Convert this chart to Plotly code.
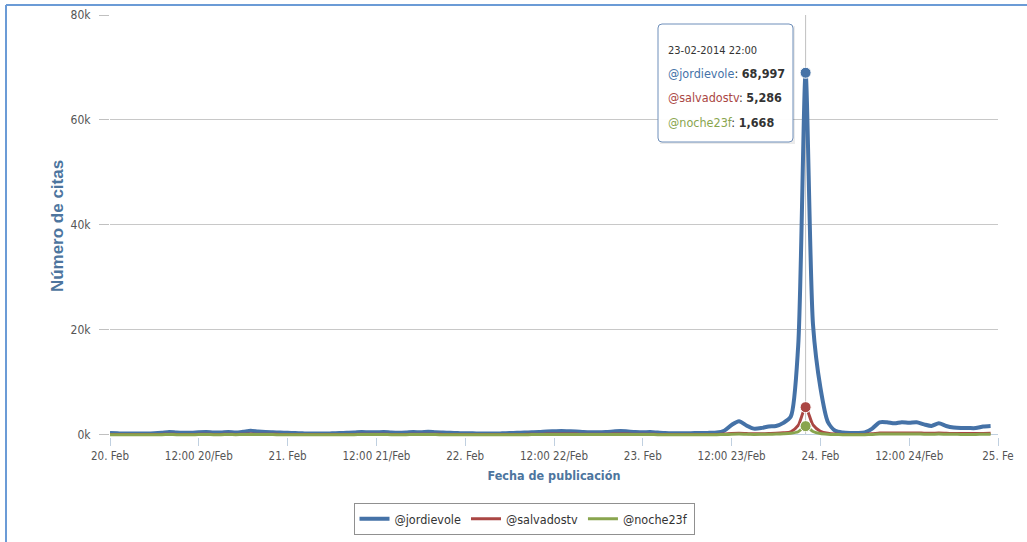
import plotly.graph_objects as go
import pandas as pd

# ---------------- data ----------------
series_names = ["@jordievole", "@salvadostv", "@noche23f"]
series_colors = ["#4572A7", "#AA4643", "#89A54E"]

start_time = "2014-02-20 00:00"
n_hours = 120
times = pd.date_range(start_time, periods=n_hours, freq="h")

jordievole = [
    # 20 Feb
    350, 300, 250, 250, 250, 250, 300, 400, 550, 450, 400, 400,
    500, 550, 450, 450, 550, 450, 600, 800, 650, 550, 500, 450,
    # 21 Feb
    400, 350, 300, 250, 250, 250, 300, 350, 400, 450, 550, 500,
    500, 550, 450, 400, 450, 550, 500, 600, 500, 450, 400, 350,
    # 22 Feb
    300, 300, 250, 250, 250, 300, 350, 400, 450, 500, 550, 650,
    700, 750, 700, 650, 550, 500, 500, 550, 650, 750, 650, 550,
    # 23 Feb
    500, 550, 450, 350, 300, 300, 300, 350, 350, 400, 450, 800,
    1900, 2600, 1800, 1200, 1300, 1600, 1700, 2300, 3500, 17000, 68997, 21000,
    # 24 Feb
    9000, 2500, 800, 450, 350, 350, 450, 1200, 2400, 2400, 2200, 2400,
    2300, 2400, 2000, 1700, 2200, 1700, 1400, 1300, 1300, 1300, 1600, 1700,
]

salvadostv = [
    80, 70, 60, 60, 60, 60, 70, 90, 120, 100, 90, 90,
    110, 120, 100, 100, 120, 100, 130, 150, 130, 120, 110, 100,
    90, 80, 70, 60, 60, 60, 70, 80, 90, 100, 120, 110,
    110, 120, 100, 90, 100, 120, 110, 130, 110, 100, 90, 80,
    70, 70, 60, 60, 60, 70, 80, 90, 100, 110, 130, 150,
    160, 180, 170, 160, 130, 110, 110, 120, 150, 170, 150, 120,
    110, 130, 100, 80, 70, 70, 70, 80, 80, 90, 100, 150,
    250, 300, 250, 200, 220, 260, 300, 400, 600, 1800, 5286, 1900,
    700, 300, 150, 100, 80, 80, 100, 200, 350, 380, 360, 380,
    370, 380, 330, 300, 350, 300, 260, 250, 250, 250, 280, 300,
]

noche23f = [
    40, 35, 30, 30, 30, 30, 35, 45, 60, 50, 45, 45,
    55, 60, 50, 50, 60, 50, 65, 75, 65, 60, 55, 50,
    45, 40, 35, 30, 30, 30, 35, 40, 45, 50, 60, 55,
    55, 60, 50, 45, 50, 60, 55, 65, 55, 50, 45, 40,
    35, 35, 30, 30, 30, 35, 40, 45, 50, 55, 65, 75,
    80, 90, 85, 80, 65, 55, 55, 60, 75, 85, 75, 60,
    55, 65, 50, 40, 35, 35, 35, 40, 40, 45, 50, 70,
    120, 150, 120, 100, 110, 130, 150, 200, 300, 600, 1668, 650,
    250, 120, 70, 50, 40, 40, 50, 90, 150, 160, 150, 160,
    150, 160, 140, 130, 150, 130, 110, 100, 100, 100, 120, 130,
]

x_tick_vals = pd.date_range("2014-02-20 00:00", "2014-02-25 00:00", freq="12h")
x_tick_text = ["20. Feb", "12:00 20/Feb", "21. Feb", "12:00 21/Feb", "22. Feb",
               "12:00 22/Feb", "23. Feb", "12:00 23/Feb", "24. Feb", "12:00 24/Feb",
               "25. Fe"]
y_tick_vals = [0, 20000, 40000, 60000, 80000]
y_tick_text = ["0k", "20k", "40k", "60k", "80k"]

highlight_index = 94  # 23-02-2014 22:00

# ---------------- layout helpers ----------------
NARROW = "DejaVu Sans Condensed, Liberation Sans Narrow, Arial Narrow, sans-serif"
W_PX, H_PX = 1027, 542
L, R, T, B = 110, 29, 15, 105
PW, PH = W_PX - L - R, H_PX - T - B


def px(xp):
    return (xp - L) / PW


def py(yp):
    return (T + PH - yp) / PH


fig = go.Figure()
all_series = [jordievole, salvadostv, noche23f]
widths = [4, 3, 3]
for name, color, vals, w in zip(series_names, series_colors, all_series, widths):
    fig.add_trace(go.Scatter(
        x=times, y=vals, name=name, mode="lines",
        line=dict(color=color, width=w, shape="spline", smoothing=0.7),
        hoverinfo="skip",
    ))

# hover markers at the highlighted point
for name, color, vals in zip(series_names, series_colors, all_series):
    fig.add_trace(go.Scatter(
        x=[times[highlight_index]], y=[vals[highlight_index]], mode="markers",
        marker=dict(color=color, size=11, line=dict(color="white", width=1)),
        showlegend=False, hoverinfo="skip", cliponaxis=False,
    ))

shapes = []
# crosshair
shapes.append(dict(type="line", xref="x", yref="paper",
                   x0=times[highlight_index], x1=times[highlight_index],
                   y0=py(435), y1=1, line=dict(color="#C0C0C0", width=1), layer="below"))
# outer frame lines (left, top)
shapes.append(dict(type="line", xref="paper", yref="paper", x0=px(6), x1=px(6),
                   y0=py(560), y1=py(5), line=dict(color="#6B9BD6", width=2)))
shapes.append(dict(type="line", xref="paper", yref="paper", x0=px(6), x1=px(1040),
                   y0=py(5), y1=py(5), line=dict(color="#6B9BD6", width=2)))

# tooltip box with rounded corners
bx0, bx1, by0, by1, r = 658, 793, 24, 142, 4
path = (f"M {px(bx0 + r)} {py(by0)} L {px(bx1 - r)} {py(by0)} "
        f"Q {px(bx1)} {py(by0)} {px(bx1)} {py(by0 + r)} "
        f"L {px(bx1)} {py(by1 - r)} Q {px(bx1)} {py(by1)} {px(bx1 - r)} {py(by1)} "
        f"L {px(bx0 + r)} {py(by1)} Q {px(bx0)} {py(by1)} {px(bx0)} {py(by1 - r)} "
        f"L {px(bx0)} {py(by0 + r)} Q {px(bx0)} {py(by0)} {px(bx0 + r)} {py(by0)} Z")
shapes.append(dict(type="rect", xref="paper", yref="paper",
                   x0=px(bx0 + 2), x1=px(bx1 + 2), y0=py(by1 + 2), y1=py(by0 + 2),
                   line=dict(width=0), fillcolor="rgba(0,0,0,0.08)"))
shapes.append(dict(type="path", xref="paper", yref="paper", path=path,
                   fillcolor="rgba(255,255,255,0.97)", line=dict(color="#6F8FBA", width=1)))

annotations = []
annotations.append(dict(
    xref="paper", yref="paper", x=px(666), y=py(50), xanchor="left", yanchor="middle",
    text=times[highlight_index].strftime("%d-%m-%Y %H:%M"), showarrow=False,
    font=dict(family=NARROW, size=11, color="#333333")))
for i, (name, color, vals) in enumerate(zip(series_names, series_colors, all_series)):
    annotations.append(dict(
        xref="paper", yref="paper", x=px(666), y=py(73 + i * 24.5),
        xanchor="left", yanchor="middle", showarrow=False,
        text=f"<span style='color:{color}'>{name}</span>: <b>{vals[highlight_index]:,}</b>",
        font=dict(family=NARROW, size=12.5, color="#333333")))

fig.update_layout(
    width=W_PX, height=H_PX,
    margin=dict(l=L, r=R, t=T, b=B, pad=0, autoexpand=False),
    paper_bgcolor="white", plot_bgcolor="white",
    showlegend=True,
    hovermode=False,
    legend=dict(orientation="h", x=px(524), y=py(519), xanchor="center", yanchor="middle",
                bordercolor="#909090", borderwidth=1, bgcolor="white",
                font=dict(family=NARROW, size=12.5, color="#333333"),
                itemwidth=30, tracegroupgap=0),
    shapes=shapes,
    annotations=annotations,
    xaxis=dict(
        range=[x_tick_vals[0], x_tick_vals[-1]], automargin=False,
        tickmode="array", tickvals=x_tick_vals, ticktext=x_tick_text,
        ticks="outside", ticklen=8, tickcolor="#C0D0E0", tickwidth=1,
        showgrid=False, showline=False, zeroline=False,
        tickfont=dict(family=NARROW, size=11.5, color="#555555"),
        title=dict(text="Fecha de publicación", standoff=9,
                   font=dict(family=NARROW, size=12.5, color="#4D759E", weight="bold")),
    ),
    yaxis=dict(
        range=[-400, 80000], automargin=False,
        tickmode="array", tickvals=y_tick_vals, ticktext=y_tick_text,
        ticks="outside", ticklen=10, tickcolor="#C0C0C0",
        showgrid=True, gridcolor="#C8C8C8", gridwidth=1,
        zeroline=True, zerolinecolor="#C0D0E0", zerolinewidth=1,
        showline=False, ticklabelstandoff=6,
        tickfont=dict(family=NARROW, size=12, color="#555555"),
        title=dict(text="Número de citas", standoff=2,
                   font=dict(family="Liberation Sans, Arial, sans-serif", size=17,
                             color="#4D759E", weight="bold")),
    ),
)

fig.write_html("out.html", config={"displayModeBar": False},
               post_script="document.body.style.margin='0';")
